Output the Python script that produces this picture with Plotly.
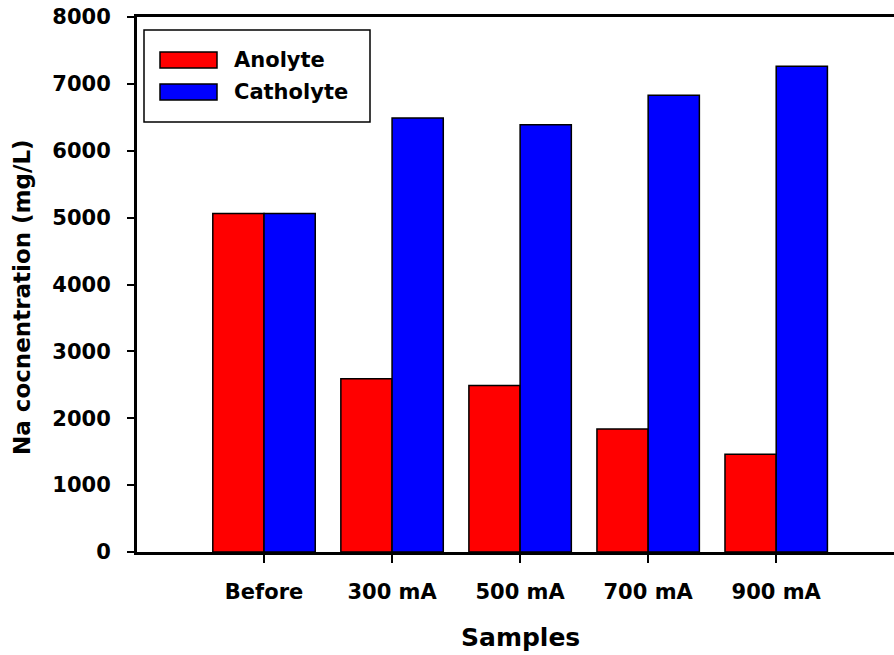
import plotly.graph_objects as go

categories = ["Before", "300 mA", "500 mA", "700 mA", "900 mA"]
anolyte = [5060, 2590, 2490, 1840, 1460]
catholyte = [5060, 6490, 6390, 6830, 7265]
series_names = ["Anolyte", "Catholyte"]
series_colors = ["#ff0000", "#0000ff"]
y_ticks = [0, 1000, 2000, 3000, 4000, 5000, 6000, 7000, 8000]

FONT = "DejaVu Sans"
W, H = 894, 655
L, R, T, B = 137, 0, 17, 103
PW = W - L - R
PH = H - T - B

def px(xp):
    return (xp - L) / PW

def py(yp):
    return (H - B - yp) / PH

fig = go.Figure()
for name, vals, col in zip(series_names, [anolyte, catholyte], series_colors):
    fig.add_trace(go.Bar(
        x=categories, y=vals, name=name,
        marker=dict(color=col, line=dict(color="black", width=1.5)),
        showlegend=False,
    ))

fig.update_layout(
    width=W, height=H,
    margin=dict(l=L, r=R, t=T, b=B, pad=0),
    plot_bgcolor="white", paper_bgcolor="white",
    barmode="group", bargap=0.2, bargroupgap=0,
    font=dict(family=FONT, color="black"),
    xaxis=dict(
        type="category", range=[-0.992, 4.92],
        showline=True, linecolor="black", linewidth=3, mirror=True,
        ticks="outside", ticklen=8, tickwidth=1.5, tickcolor="black",
        tickfont=dict(family=FONT, size=21, color="black", weight="bold"),
        ticklabelstandoff=11,
        showgrid=False, zeroline=False,
    ),
    yaxis=dict(
        range=[0, 8000], tickvals=y_ticks,
        showline=True, linecolor="black", linewidth=3,
        ticks="outside", ticklen=7, tickwidth=1.5, tickcolor="black",
        tickfont=dict(family=FONT, size=21, color="black", weight="bold"),
        ticklabelstandoff=12,
        showgrid=False, zeroline=False,
    ),
)

# axis titles
fig.add_annotation(text="<b>Na cocnentration (mg/L)</b>", xref="paper", yref="paper",
                   x=px(22), y=py(297), xanchor="center", yanchor="middle",
                   textangle=-90, showarrow=False,
                   font=dict(family=FONT, size=23, color="black"))
fig.add_annotation(text="<b>Samples</b>", xref="paper", yref="paper",
                   x=px(520), y=py(637), xanchor="center", yanchor="middle",
                   showarrow=False, font=dict(family=FONT, size=25, color="black"))

# manual legend
fig.add_shape(type="rect", xref="paper", yref="paper",
              x0=px(144), x1=px(370), y0=py(122), y1=py(30),
              line=dict(color="black", width=1.5), fillcolor="white", layer="above")
legend_y = [(52, 68), (84, 100)]
for (y0, y1), name, col in zip(legend_y, series_names, series_colors):
    fig.add_shape(type="rect", xref="paper", yref="paper",
                  x0=px(160), x1=px(217), y0=py(y1), y1=py(y0),
                  line=dict(color="black", width=1.5), fillcolor=col, layer="above")
    fig.add_annotation(text="<b>%s</b>" % name, xref="paper", yref="paper",
                       x=px(232), y=py((y0 + y1) / 2), xanchor="left", yanchor="middle",
                       showarrow=False, font=dict(family=FONT, size=21, color="black"))

fig.write_html("out.html")
